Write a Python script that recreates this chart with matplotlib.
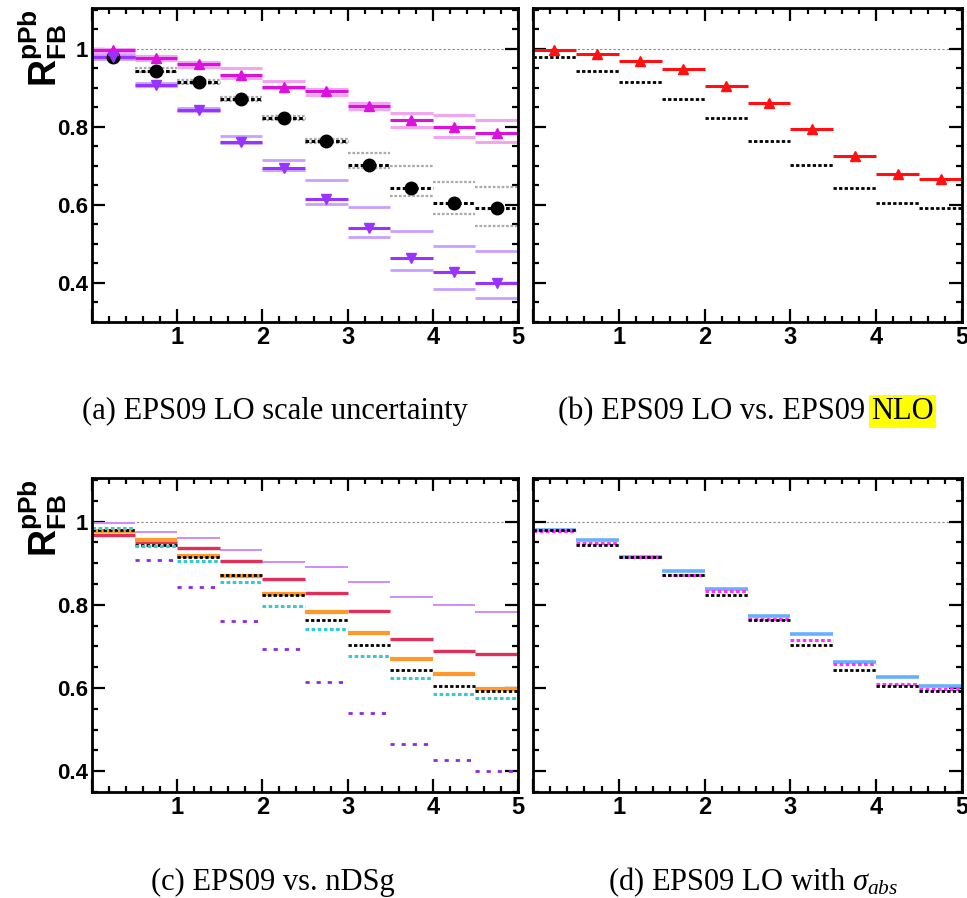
import numpy as np
import matplotlib
matplotlib.use('Agg')
import matplotlib.pyplot as plt
from matplotlib.ticker import MultipleLocator, FixedLocator

plt.rcParams['font.family'] = ['Liberation Sans', 'DejaVu Sans']
plt.rcParams['mathtext.fontset'] = 'custom'
plt.rcParams['mathtext.bf'] = 'Liberation Sans:bold'
plt.rcParams['mathtext.rm'] = 'Liberation Serif'
plt.rcParams['mathtext.it'] = 'Liberation Serif:italic'

# 10 rapidity bins from 0 to 5
edges = np.array([0.0, 0.5, 1.0, 1.5, 2.0, 2.5, 3.0, 3.5, 4.0, 4.5, 5.0])
centers = 0.5 * (edges[:-1] + edges[1:])

# (a) EPS09 LO scale uncertainty
lo_central = [0.979, 0.944, 0.916, 0.871, 0.823, 0.764, 0.703, 0.644, 0.605, 0.592]
lo_scale_up = [0.985, 0.950, 0.921, 0.876, 0.828, 0.770, 0.733, 0.700, 0.660, 0.645]
lo_scale_dn = [0.975, 0.940, 0.911, 0.866, 0.818, 0.758, 0.695, 0.624, 0.577, 0.546]
mag_central = [0.997, 0.976, 0.961, 0.932, 0.902, 0.891, 0.854, 0.818, 0.799, 0.784]
mag_up = [1.000, 0.981, 0.967, 0.950, 0.918, 0.897, 0.862, 0.837, 0.831, 0.818]
mag_dn = [0.990, 0.972, 0.955, 0.926, 0.900, 0.882, 0.846, 0.801, 0.775, 0.762]
pur_central = [0.979, 0.908, 0.844, 0.762, 0.694, 0.615, 0.540, 0.465, 0.427, 0.401]
pur_up = [0.985, 0.912, 0.848, 0.777, 0.715, 0.664, 0.594, 0.533, 0.496, 0.482]
pur_dn = [0.975, 0.904, 0.840, 0.758, 0.690, 0.602, 0.517, 0.433, 0.384, 0.361]

# (b) EPS09 NLO
nlo_central = [0.997, 0.986, 0.970, 0.949, 0.905, 0.861, 0.794, 0.726, 0.679, 0.666]

# (c) EPS09 vs nDSg
c_red = [0.969, 0.952, 0.937, 0.905, 0.862, 0.829, 0.785, 0.718, 0.688, 0.681]
c_orange = [0.978, 0.956, 0.917, 0.870, 0.825, 0.782, 0.732, 0.670, 0.633, 0.597]
c_cyan = [0.985, 0.942, 0.906, 0.854, 0.797, 0.742, 0.677, 0.625, 0.585, 0.576]

# (d) EPS09 LO with sigma_abs
d_blue = [0.980, 0.956, 0.915, 0.882, 0.837, 0.774, 0.730, 0.662, 0.626, 0.606]
d_mag = [0.978, 0.948, 0.914, 0.871, 0.834, 0.766, 0.715, 0.658, 0.610, 0.598]

yticks = [0.4, 0.6, 0.8, 1.0]
ylabels = ['0.4', '0.6', '0.8', '1']
xticks = [0, 1, 2, 3, 4, 5]
xlabels = ['', '1', '2', '3', '4', '5']

fig = plt.figure(figsize=(9.67, 8.98), dpi=100)
W, H = 967.0, 898.0


def make_ax(x0, x1, y0, y1, ymin, show_y):
    ax = fig.add_axes([x0 / W, 1 - y1 / H, (x1 - x0) / W, (y1 - y0) / H])
    ax.set_xlim(0, 5)
    ax.set_ylim(ymin, 1.105)
    ax.xaxis.set_major_locator(FixedLocator(xticks))
    ax.set_xticklabels(xlabels)
    ax.xaxis.set_minor_locator(MultipleLocator(0.2))
    ax.yaxis.set_major_locator(FixedLocator(yticks))
    ax.set_yticklabels(ylabels if show_y else [])
    ax.yaxis.set_minor_locator(MultipleLocator(0.05))
    ax.tick_params(which='both', direction='in', top=True, right=True, width=1.6)
    ax.tick_params(axis='x', labelsize=17)
    ax.tick_params(axis='y', labelsize=16)
    ax.tick_params(which='major', length=9.5, pad=3)
    ax.tick_params(which='minor', length=4.5)
    for lab in ax.get_xticklabels() + ax.get_yticklabels():
        lab.set_fontweight('bold')
    for s in ax.spines.values():
        s.set_linewidth(2)
    ax.axhline(1.0, color='#888888', ls=(0, (2, 2)), lw=0.8, zorder=0)
    return ax


def bins(ax, vals, **kw):
    ax.hlines(vals, edges[:-1], edges[1:], **kw)


dot = (0, (1.2, 0.8))

# ---- (a)
ax = make_ax(92, 518, 8, 322, 0.3, True)
bins(ax, lo_scale_up, colors='#aaaaaa', linestyles=dot, lw=1.6)
bins(ax, lo_scale_dn, colors='#aaaaaa', linestyles=dot, lw=1.6)
bins(ax, mag_up, colors='#f2a6f2', lw=2.2)
bins(ax, mag_dn, colors='#f2a6f2', lw=2.2)
bins(ax, pur_up, colors='#c9a0ff', lw=2.0)
bins(ax, pur_dn, colors='#c9a0ff', lw=2.0)
bins(ax, lo_central, colors='black', linestyles=dot, lw=2.2)
bins(ax, mag_central, colors='#dd11dd', lw=2.2)
bins(ax, pur_central, colors='#9933ff', lw=2.2)
ax.plot(centers, lo_central, 'o', color='black', ms=9, zorder=3)
ax.plot(centers, mag_central, '^', color='#dd11dd', ms=6.5, zorder=4)
ax.plot(centers, pur_central, 'v', color='#9933ff', ms=6.5, zorder=4)

# ---- (b)
ax = make_ax(533, 962, 8, 322, 0.3, False)
bins(ax, lo_central, colors='black', linestyles=dot, lw=2.0)
bins(ax, nlo_central, colors='#ff1111', lw=2.2)
ax.plot(centers, nlo_central, '^', color='#ff1111', ms=6.5)

# ---- (c)
ax = make_ax(92, 518, 478, 792, 0.35, True)
bins(ax, mag_central, colors='#cc8cff', lw=1.4)
bins(ax, pur_central, colors='#8a2be2', linestyles=(0, (1.5, 2.5)), lw=2.0)
bins(ax, c_red, colors='#e0305a', lw=2.4)
bins(ax, c_orange, colors='#ff9a2a', lw=3.0)
bins(ax, lo_central, colors='black', linestyles=dot, lw=2.0)
bins(ax, c_cyan, colors='#33cccc', linestyles=dot, lw=2.2)

# ---- (d)
ax = make_ax(533, 962, 478, 792, 0.35, False)
bins(ax, d_blue, colors='#66b0ff', lw=2.6)
bins(ax, d_mag, colors='#ff33ff', linestyles=dot, lw=2.2)
bins(ax, lo_central, colors='black', linestyles=dot, lw=2.0)

# y axis titles
for ytop in [9, 479]:
    fig.text(43 / W, 1 - ytop / H, r'$\mathbf{R^{pPb}_{FB}}$', rotation=90,
             ha='center', va='top', fontsize=27)

# captions
cap = dict(family='Liberation Serif', fontsize=22, va='baseline')
fig.text(275 / W, 1 - 419 / H, '(a) EPS09 LO scale uncertainty', ha='center', **cap)
t1 = fig.text(558 / W, 1 - 419 / H, '(b) EPS09 LO vs. EPS09', ha='left', **cap)
fig.canvas.draw()
ext = t1.get_window_extent()
fig.text((ext.x1 + 6) / W, 1 - 419 / H, 'NLO', ha='left',
         bbox=dict(facecolor='#ffff00', edgecolor='none', pad=1.5), **cap)
fig.text(273 / W, 1 - 890 / H, '(c) EPS09 vs. nDSg', ha='center', **cap)
fig.text(753 / W, 1 - 890 / H, r'(d) EPS09 LO with $\sigma_{abs}$', ha='center', **cap)

fig.savefig('out.png', dpi=100)
